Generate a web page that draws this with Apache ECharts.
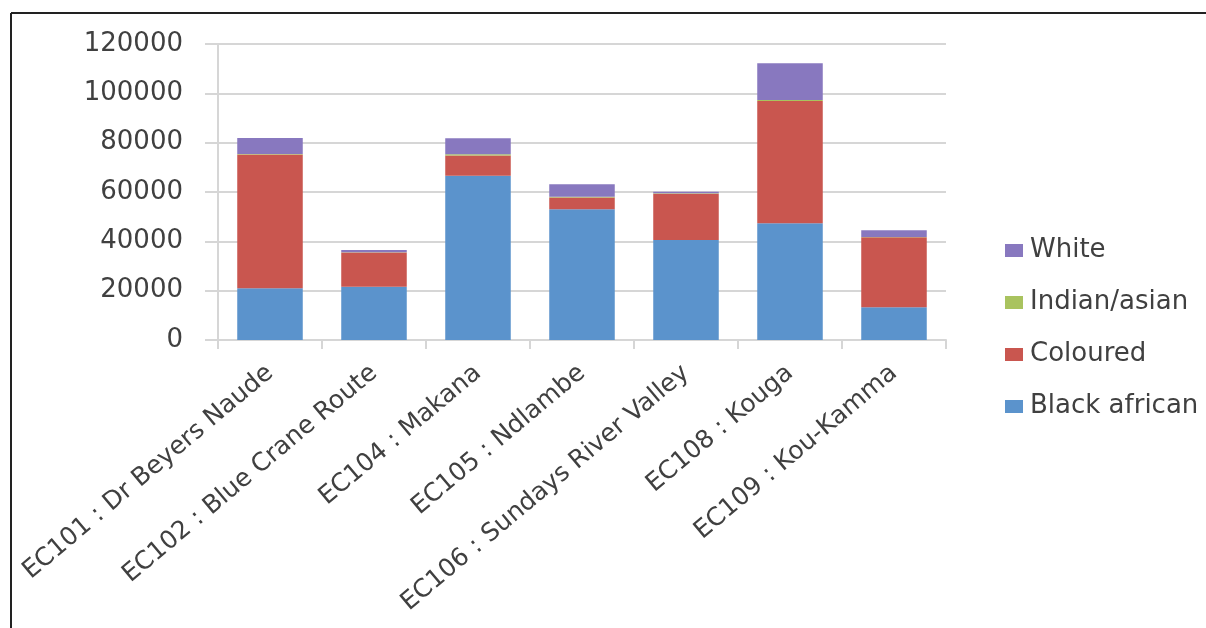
<!DOCTYPE html>
<html>
<head>
<meta charset="utf-8">
<script src="https://cdn.jsdelivr.net/npm/echarts@6/dist/echarts.min.js"></script>
<style>
  html, body { margin: 0; padding: 0; background: #ffffff; }
  #chart { width: 1206px; height: 628px; }
</style>
</head>
<body>
<div id="chart"></div>
<script>
// Municipalities (Eastern Cape) and population by group
const categories = [
  'EC101 : Dr Beyers Naude',
  'EC102 : Blue Crane Route',
  'EC104 : Makana',
  'EC105 : Ndlambe',
  'EC106 : Sundays River Valley',
  'EC108 : Kouga',
  'EC109 : Kou-Kamma'
];
const blackAfrican = [21000, 21600, 66600, 53000, 40500, 47300, 13300];
const coloured     = [54200, 13900,  8200,  4800, 18800, 49600, 28400];
const indianAsian  = [  200,   100,   500,   300,   200,   400,   100];
const white        = [ 6500,   900,  6500,  5000,   600, 14900,  2700];

const yTicks = { min: 0, max: 120000, interval: 20000 };

const FONT = 'DejaVu Sans';
const gridColor = '#d6d6d6';
const textColor = '#404040';

const chart = echarts.init(document.getElementById('chart'), null, { renderer: 'canvas' });

function barSeries(name, data, color) {
  return {
    name: name,
    type: 'bar',
    stack: 'total',
    barWidth: '63%',
    data: data,
    itemStyle: { color: color, borderWidth: 0 },
    emphasis: { disabled: true }
  };
}

chart.setOption({
  backgroundColor: '#ffffff',
  animation: false,
  textStyle: { fontFamily: FONT },
  grid: { left: 218, right: 260, top: 44, bottom: 288, containLabel: false },
  legend: {
    orient: 'vertical',
    left: 1000,
    top: 231,
    itemWidth: 18,
    itemHeight: 13,
    itemGap: 23,
    icon: 'rect',
    data: ['White', 'Indian/asian', 'Coloured', 'Black african'],
    textStyle: { fontFamily: FONT, fontSize: 26, color: textColor, lineHeight: 29, padding: [0, 0, 0, 2] }
  },
  xAxis: {
    type: 'category',
    data: categories,
    boundaryGap: true,
    axisLine: { show: true, lineStyle: { color: gridColor, width: 2 } },
    axisTick: { show: true, alignWithLabel: false, length: 9, lineStyle: { color: gridColor, width: 2 } },
    axisLabel: {
      rotate: 40,
      margin: 30,
      interval: 0,
      fontFamily: FONT,
      fontSize: 25,
      color: textColor
    }
  },
  yAxis: {
    type: 'value',
    min: yTicks.min,
    max: yTicks.max,
    interval: yTicks.interval,
    axisLine: { show: true, lineStyle: { color: gridColor, width: 2 } },
    axisTick: { show: true, length: 13, lineStyle: { color: gridColor, width: 2 } },
    splitLine: { show: true, lineStyle: { color: gridColor, width: 2 } },
    axisLabel: {
      margin: 35,
      fontFamily: FONT,
      fontSize: 26,
      color: textColor,
      formatter: function (v) { return String(v); }
    }
  },
  graphic: [
    { type: 'line', shape: { x1: 11, y1: 13, x2: 1206, y2: 13 }, style: { stroke: '#222222', lineWidth: 2 }, silent: true },
    { type: 'line', shape: { x1: 11, y1: 13, x2: 11, y2: 628 }, style: { stroke: '#222222', lineWidth: 2 }, silent: true }
  ],
  series: [
    barSeries('Black african', blackAfrican, '#5b93cc'),
    barSeries('Coloured', coloured, '#c9564f'),
    barSeries('Indian/asian', indianAsian, '#a9c35f'),
    barSeries('White', white, '#8878bf')
  ]
});
</script>
</body>
</html>
